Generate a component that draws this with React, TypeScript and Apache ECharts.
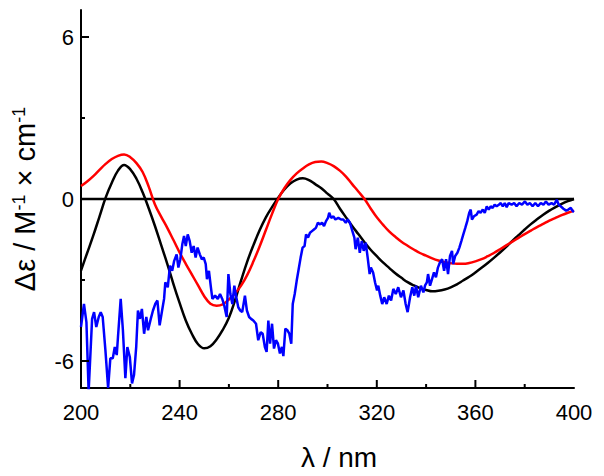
import React, { useEffect, useRef } from "react";
import * as echarts from "echarts";

const curveWavelengths = [200, 202.5, 205, 207.5, 210, 212.5, 215, 217.5, 220, 222.5, 225, 227.5, 230, 232.5, 235, 237.5, 240, 242.5, 245, 247.5, 250, 252.5, 255, 257.5, 260, 262.5, 265, 267.5, 270, 272.5, 275, 277.5, 280, 282.5, 285, 287.5, 290, 292.5, 295, 297.5, 300, 302.5, 305, 307.5, 310, 312.5, 315, 317.5, 320, 322.5, 325, 327.5, 330, 332.5, 335, 337.5, 340, 342.5, 345, 347.5, 350, 352.5, 355, 357.5, 360, 362.5, 365, 367.5, 370, 372.5, 375, 377.5, 380, 382.5, 385, 387.5, 390, 392.5, 395, 397.5, 400];
const redValues = [0.48, 0.65, 0.85, 1.08, 1.3, 1.48, 1.6, 1.65, 1.55, 1.33, 1.0, 0.45, -0.2, -0.65, -1.07, -1.52, -1.98, -2.4, -2.8, -3.2, -3.6, -3.88, -3.95, -3.9, -3.72, -3.5, -3.2, -2.8, -2.3, -1.75, -1.15, -0.55, 0, 0.4, 0.71, 0.95, 1.13, 1.28, 1.37, 1.39, 1.33, 1.22, 1.05, 0.83, 0.55, 0.28, 0, -0.35, -0.68, -0.95, -1.2, -1.4, -1.58, -1.73, -1.87, -2.0, -2.1, -2.2, -2.28, -2.34, -2.38, -2.4, -2.4, -2.37, -2.31, -2.23, -2.12, -2.0, -1.86, -1.72, -1.58, -1.44, -1.3, -1.17, -1.04, -0.92, -0.8, -0.7, -0.6, -0.51, -0.43];
const blackValues = [-2.65, -2.0, -1.35, -0.65, 0.05, 0.6, 1.05, 1.26, 1.1, 0.75, 0.25, -0.35, -1.0, -1.7, -2.4, -3.15, -3.85, -4.5, -5.0, -5.38, -5.53, -5.45, -5.2, -4.85, -4.4, -3.75, -3.0, -2.3, -1.7, -1.15, -0.68, -0.3, 0.05, 0.35, 0.58, 0.72, 0.77, 0.7, 0.55, 0.4, 0.2, 0, -0.35, -0.68, -1.0, -1.3, -1.6, -1.88, -2.12, -2.35, -2.55, -2.75, -2.92, -3.08, -3.2, -3.3, -3.37, -3.42, -3.4, -3.35, -3.27, -3.16, -3.02, -2.88, -2.72, -2.55, -2.37, -2.18, -1.98, -1.77, -1.55, -1.34, -1.13, -0.93, -0.75, -0.58, -0.43, -0.3, -0.18, -0.08, 0];

const blueWavelengths = [200, 201.2, 202.2, 203.1, 204.5, 205.3, 206.2, 207.2, 208, 208.8, 209.9, 211, 211.9, 212.9, 213.7, 214.5, 215, 216.1, 217, 218, 218.8, 219.8, 220.7, 221.5, 222.4, 223.1, 223.9, 224.7, 225.6, 226.5, 227.2, 228.3, 229.2, 230.1, 231, 231.9, 232.9, 233.7, 234.2, 235.2, 236.1, 237, 237.8, 238.8, 239.5, 240.3, 241.1, 241.8, 242.5, 243.3, 244.1, 244.9, 245.7, 246.5, 247.3, 248.2, 249, 249.8, 250.6, 251.1, 251.9, 252.7, 253.3, 254.4, 255.5, 256.4, 257.3, 258.1, 259.1, 259.8, 260.6, 261.4, 262.2, 263, 263.8, 264.6, 265.4, 266.5, 267.3, 268.2, 269, 269.9, 271, 271.9, 272.9, 273.7, 274.6, 275.3, 276, 276.7, 277.5, 278.3, 279.1, 279.9, 280.7, 281.5, 282.1, 282.9, 283.7, 284.5, 285.3, 285.9, 286.7, 287.5, 288.3, 289.1, 289.9, 290.7, 291.3, 292.1, 292.9, 293.7, 294.5, 295.3, 296.1, 297, 297.8, 298.6, 299.4, 300.2, 300.7, 301.5, 302.4, 303.2, 304.4, 305.5, 306.4, 307.4, 308.2, 309.1, 310.1, 310.9, 311.4, 312.3, 313.1, 313.9, 314.7, 315.5, 316.3, 317.1, 317.6, 318.5, 319.3, 320.1, 320.6, 321.4, 322.2, 323, 324, 324.9, 325.8, 326.7, 327.7, 328.7, 329.8, 330.8, 331.7, 332.5, 333.5, 334.4, 335.2, 335.9, 336.8, 337.9, 338.9, 339.6, 340.3, 340.8, 341.6, 342.4, 343.2, 344, 344.8, 345.6, 346.5, 347.3, 348.1, 348.9, 349.7, 350.5, 351, 351.8, 352.7, 353.5, 354.3, 355.1, 355.9, 356.7, 357.5, 358.1, 358.6, 359.4, 360.5, 361.3, 362.1, 363, 363.8, 364.6, 365.4, 366.2, 367, 367.8, 368.6, 369.5, 370.3, 371.1, 371.9, 372.7, 373.5, 374.7, 375.7, 376.7, 377.8, 378.9, 380.1, 381.1, 382.1, 383.2, 384.3, 385.4, 386.5, 387.6, 388.6, 389.7, 390.9, 391.9, 393, 393.8, 394.6, 395.7, 396.8, 397.7, 398.7, 399.5, 400];
const blueValues = [-4.74, -3.89, -4.56, -7.13, -4.44, -4.19, -4.74, -4.37, -4.19, -4.37, -5.6, -7.0, -5.9, -5.9, -5.48, -5.78, -5.11, -3.7, -4.86, -6.64, -5.48, -5.85, -6.83, -6.52, -5.48, -4.13, -4.44, -4.07, -4.99, -4.37, -4.86, -4.44, -4.13, -3.89, -3.76, -4.68, -4.13, -3.7, -3.09, -3.27, -2.47, -2.66, -2.29, -2.05, -2.54, -2.23, -1.68, -1.37, -1.74, -1.31, -1.56, -1.99, -1.74, -2.17, -1.8, -2.05, -2.23, -2.17, -2.41, -2.97, -2.66, -3.27, -3.7, -3.58, -3.7, -3.52, -3.7, -3.94, -4.37, -2.78, -3.52, -3.89, -3.21, -3.64, -4.01, -4.13, -4.19, -3.58, -4.13, -4.37, -4.44, -4.5, -4.62, -5.23, -4.93, -4.99, -5.48, -5.66, -4.5, -5.36, -4.62, -5.54, -5.23, -5.36, -5.72, -5.48, -5.82, -4.8, -4.86, -4.99, -5.36, -3.89, -3.52, -3.03, -2.6, -2.17, -1.8, -1.74, -1.31, -1.43, -1.25, -1.19, -1.13, -1.07, -0.88, -0.94, -0.88, -1.0, -0.82, -0.7, -0.51, -0.7, -0.64, -0.76, -0.7, -0.76, -0.76, -0.88, -0.76, -0.88, -1.19, -1.43, -1.86, -1.43, -1.99, -1.56, -1.92, -1.62, -2.17, -2.78, -2.54, -2.72, -3.09, -3.39, -3.21, -3.58, -3.89, -3.64, -3.89, -3.58, -3.76, -3.33, -3.52, -3.27, -3.64, -3.39, -3.89, -4.19, -3.64, -3.27, -3.58, -3.21, -3.64, -3.21, -3.46, -3.2, -3.09, -2.78, -3.21, -2.97, -2.72, -2.9, -2.54, -2.35, -2.23, -2.66, -2.23, -2.78, -2.11, -1.92, -2.41, -2.11, -1.99, -1.8, -1.56, -1.31, -1.07, -0.82, -0.51, -0.39, -0.76, -0.64, -0.58, -0.45, -0.51, -0.39, -0.51, -0.27, -0.39, -0.27, -0.33, -0.21, -0.27, -0.21, -0.15, -0.27, -0.15, -0.3, -0.15, -0.21, -0.15, -0.27, -0.15, -0.21, -0.09, -0.21, -0.15, -0.27, -0.15, -0.27, -0.15, -0.21, -0.09, -0.21, -0.15, -0.21, -0.03, -0.21, -0.27, -0.36, -0.43, -0.39, -0.33, -0.45, -0.48];

const zeroLine = [[200, 0], [400, 0]];
const yLabelValues = [-6, 0, 6];
const yMajorTicks = [-6, 0, 6];
const yMinorTicks = [-3, 3];
const xMajorTicks = [240, 280, 320, 360];
const xMinorTicks = [220, 260, 300, 340, 380];

const FONT = "Liberation Sans, Arial, sans-serif";
const X_MIN = 200;
const X_MAX = 400;
const Y_MIN = -7;
const Y_MAX = 7;

export default function App() {
  const ref = useRef<HTMLDivElement>(null);
  useEffect(() => {
    if (!ref.current) return;
    const chart = echarts.init(ref.current, undefined, { renderer: "svg" });
    const zip = (xs: number[], ys: number[]) => xs.map((x, i) => [x, ys[i]]);
    const axisLineStyle = { color: "#000", width: 2 };

    const yTickSeries = (values: number[], len: number) => ({
      type: "custom",
      silent: true,
      clip: false,
      z: 5,
      data: values.map((v) => [X_MIN, v]),
      renderItem: (_params: any, api: any) => {
        const p = api.coord([api.value(0), api.value(1)]);
        return {
          type: "line",
          shape: { x1: p[0], y1: p[1], x2: p[0] + len, y2: p[1] },
          style: { stroke: "#000", lineWidth: 2 },
        };
      },
    });
    const xTickSeries = (values: number[], len: number) => ({
      type: "custom",
      silent: true,
      clip: false,
      z: 5,
      data: values.map((v) => [v, Y_MIN]),
      renderItem: (_params: any, api: any) => {
        const p = api.coord([api.value(0), api.value(1)]);
        return {
          type: "line",
          shape: { x1: p[0], y1: p[1], x2: p[0], y2: p[1] - len },
          style: { stroke: "#000", lineWidth: 2 },
        };
      },
    });

    chart.setOption({
      animation: false,
      backgroundColor: "#fff",
      grid: { left: 81, right: 30, top: 10, bottom: 86 },
      xAxis: {
        type: "value",
        min: X_MIN,
        max: X_MAX,
        interval: 40,
        axisLine: { show: true, onZero: false, lineStyle: axisLineStyle },
        axisTick: { show: false },
        splitLine: { show: false },
        axisLabel: { color: "#000", fontSize: 22, fontFamily: FONT, margin: 13 },
        name: "λ / nm",
        nameLocation: "middle",
        nameGap: 55,
        nameTextStyle: { color: "#000", fontSize: 28, fontFamily: FONT, padding: [0, 0, 0, 23] },
      },
      yAxis: {
        type: "value",
        min: Y_MIN,
        max: Y_MAX,
        position: "left",
        axisLine: { show: true, onZero: false, lineStyle: axisLineStyle },
        axisTick: { show: false },
        axisLabel: { color: "#000", fontSize: 22, fontFamily: FONT, margin: 7, customValues: yLabelValues },
        splitLine: { show: false },
        name: "{a|Δε / M}{s|-1}{a| × cm}{s|-1}",
        nameLocation: "middle",
        nameGap: 42,
        nameRotate: 90,
        nameTextStyle: {
          color: "#000",
          fontFamily: FONT,
          fontSize: 29,
          rich: {
            a: { fontSize: 29, fontFamily: FONT, color: "#000" },
            s: { fontSize: 18, fontFamily: FONT, color: "#000", verticalAlign: "top" },
          },
        },
      },
      series: [
        {
          type: "line",
          data: zeroLine,
          symbol: "none",
          lineStyle: { color: "#000", width: 2.5 },
          silent: true,
        },
        {
          type: "line",
          data: zip(curveWavelengths, blackValues),
          symbol: "none",
          smooth: 0.4,
          lineStyle: { color: "#000", width: 2.5 },
        },
        {
          type: "line",
          data: zip(curveWavelengths, redValues),
          symbol: "none",
          smooth: 0.4,
          lineStyle: { color: "#ff0000", width: 2.5 },
        },
        {
          type: "line",
          data: zip(blueWavelengths, blueValues),
          symbol: "none",
          lineStyle: { color: "#0000ff", width: 2.5 },
        },
        yTickSeries(yMajorTicks, 8),
        yTickSeries(yMinorTicks, 4),
        xTickSeries(xMajorTicks, 8),
        xTickSeries(xMinorTicks, 4),
      ],
    });
    return () => chart.dispose();
  }, []);
  return <div ref={ref} style={{ width: 604, height: 476, position: "absolute", left: 0, top: 0 }} />;
}
